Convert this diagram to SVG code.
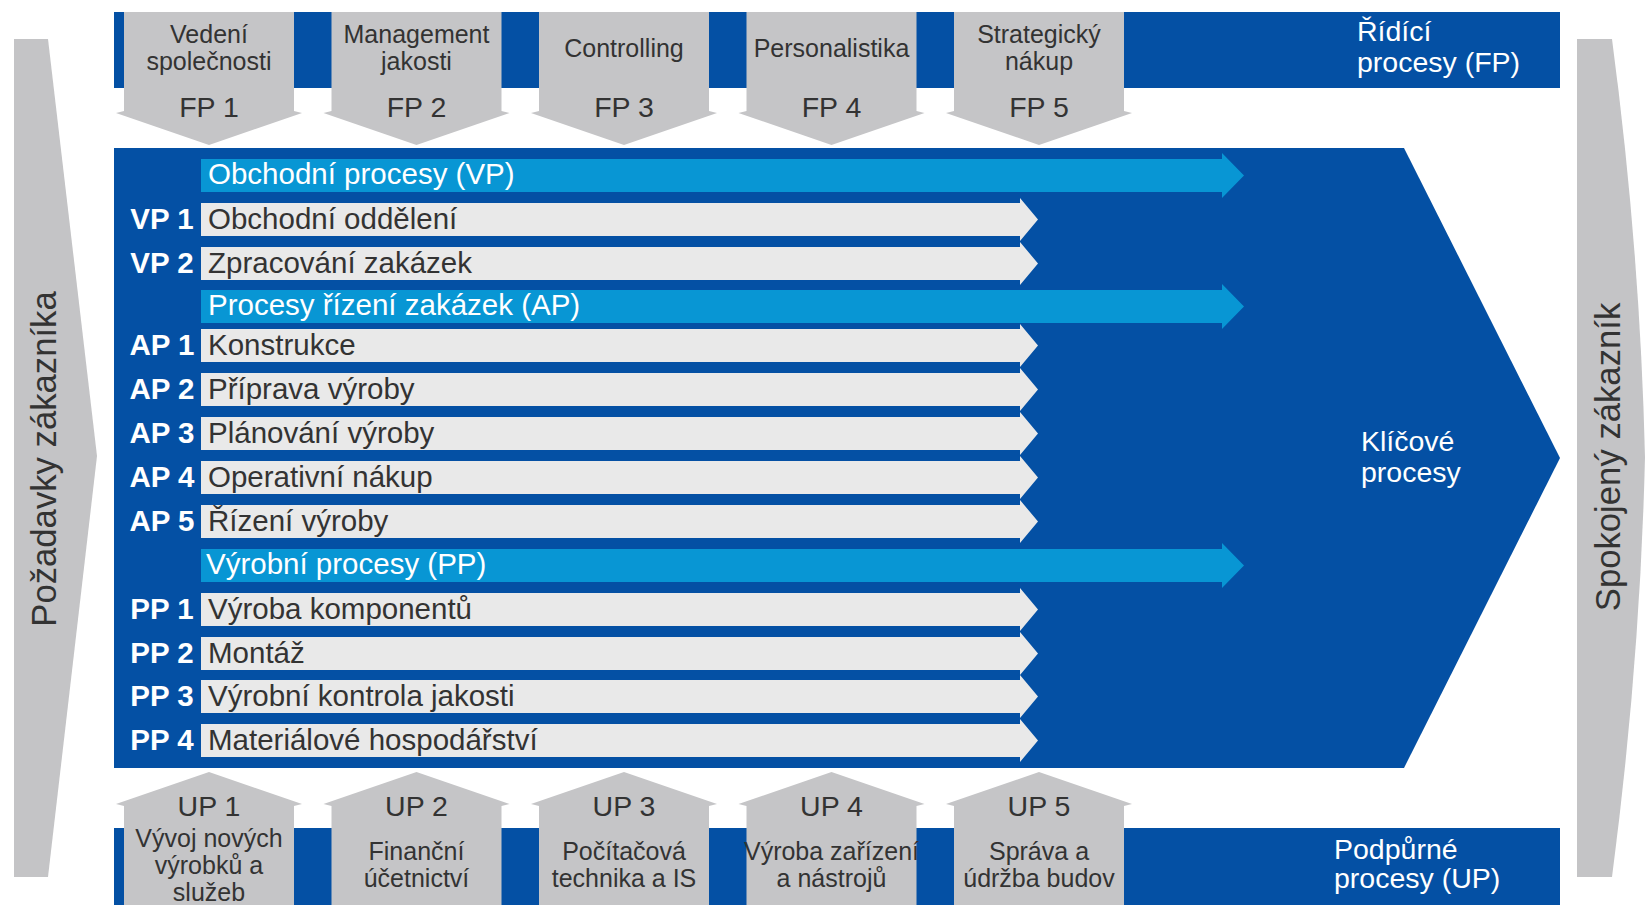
<svg xmlns="http://www.w3.org/2000/svg" xmlns:xlink="http://www.w3.org/1999/xlink" width="1645" height="905" viewBox="0 0 1645 905">
<style>
text{font-family:"Liberation Sans",Arial,sans-serif;}
.dk{fill:#0450a4;}
.lb{fill:#0896d4;}
.gr{fill:#e9e9e9;}
.box{fill:#c5c5c7;}
.side{fill:#c4c4c6;}
.w{fill:#ffffff;}
.t{fill:#333333;}
.row{font-size:29.5px;}
.lab{font-size:29.5px;text-anchor:middle;fill:#ffffff;font-weight:bold;}
.code{font-size:28.5px;text-anchor:middle;fill:#333333;}
.cap{font-size:25px;text-anchor:middle;fill:#333333;}
.big{font-size:28.5px;fill:#ffffff;}
.vert{font-size:34.7px;text-anchor:middle;fill:#333333;}
</style>
<defs>
<path id="grayArrow" d="M0,0 H819 V-5 L837,16.5 L819,38 V33 H0 Z"/>
<path id="blueArrow" d="M0,0 H1021 V-6 L1043,16.5 L1021,39 V33 H0 Z"/>
<path id="fpShape" d="M-85,12 H85 V111 L93,113 L0,145 L-93,113 L-85,111 Z"/>
<path id="upShape" d="M0,772 L93,804 L85,806 V905 H-85 V806 L-93,804 Z"/>
</defs>
<rect width="1645" height="905" fill="#ffffff"/>

<g id="customer-requirements">
<polygon class="side" points="14,39 48,39 97,456 48,877 14,877"/>
<text class="vert" transform="translate(56,459) rotate(-90)">Požadavky zákazníka</text>
</g>

<g id="satisfied-customer">
<path class="side" d="M1577,39 H1612 Q1640,250 1645,457 Q1640,664 1612,877 H1577 Z"/>
<text class="vert" transform="translate(1620,457) rotate(-90)">Spokojený zákazník</text>
</g>

<g id="management-bar">
<rect class="dk" x="114" y="12" width="1446" height="76"/>
<text class="big" x="1357" y="41">Řídící</text>
<text class="big" x="1357" y="72">procesy (FP)</text>
</g>

<g id="FP1"><use href="#fpShape" class="box" x="209"/>
<text class="cap" x="209" y="43">Vedení</text><text class="cap" x="209" y="70">společnosti</text>
<text class="code" x="209" y="117">FP 1</text></g>
<g id="FP2"><use href="#fpShape" class="box" x="416.5"/>
<text class="cap" x="416.5" y="43">Management</text><text class="cap" x="416.5" y="70">jakosti</text>
<text class="code" x="416.5" y="117">FP 2</text></g>
<g id="FP3"><use href="#fpShape" class="box" x="624"/>
<text class="cap" x="624" y="57">Controlling</text>
<text class="code" x="624" y="117">FP 3</text></g>
<g id="FP4"><use href="#fpShape" class="box" x="831.5"/>
<text class="cap" x="831.5" y="57">Personalistika</text>
<text class="code" x="831.5" y="117">FP 4</text></g>
<g id="FP5"><use href="#fpShape" class="box" x="1039"/>
<text class="cap" x="1039" y="43">Strategický</text><text class="cap" x="1039" y="70">nákup</text>
<text class="code" x="1039" y="117">FP 5</text></g>

<g id="key-processes">
<polygon class="dk" points="114,148 1404,148 1560,458 1404,768 114,768"/>
<text class="big" x="1361" y="451">Klíčové</text>
<text class="big" x="1361" y="482">procesy</text>
</g>

<g id="connectors">
<use href="#blueArrow" class="lb" x="201" y="159"/>
<use href="#grayArrow" class="gr" x="201" y="203"/>
<use href="#grayArrow" class="gr" x="201" y="247"/>
<use href="#blueArrow" class="lb" x="201" y="290"/>
<use href="#grayArrow" class="gr" x="201" y="329"/>
<use href="#grayArrow" class="gr" x="201" y="373"/>
<use href="#grayArrow" class="gr" x="201" y="417"/>
<use href="#grayArrow" class="gr" x="201" y="461"/>
<use href="#grayArrow" class="gr" x="201" y="505"/>
<use href="#blueArrow" class="lb" x="201" y="549"/>
<use href="#grayArrow" class="gr" x="201" y="593"/>
<use href="#grayArrow" class="gr" x="201" y="637"/>
<use href="#grayArrow" class="gr" x="201" y="680"/>
<use href="#grayArrow" class="gr" x="201" y="724"/>
</g>

<g id="VP"><text class="row w" x="208" y="184">Obchodní procesy (VP)</text></g>
<g id="VP1"><text class="lab" x="162" y="229">VP 1</text><text class="row t" x="208" y="229">Obchodní oddělení</text></g>
<g id="VP2"><text class="lab" x="162" y="273">VP 2</text><text class="row t" x="208" y="273">Zpracování zakázek</text></g>
<g id="AP"><text class="row w" x="208" y="315">Procesy řízení zakázek (AP)</text></g>
<g id="AP1"><text class="lab" x="162" y="355">AP 1</text><text class="row t" x="208" y="355">Konstrukce</text></g>
<g id="AP2"><text class="lab" x="162" y="399">AP 2</text><text class="row t" x="208" y="399">Příprava výroby</text></g>
<g id="AP3"><text class="lab" x="162" y="443">AP 3</text><text class="row t" x="208" y="443">Plánování výroby</text></g>
<g id="AP4"><text class="lab" x="162" y="487">AP 4</text><text class="row t" x="208" y="487">Operativní nákup</text></g>
<g id="AP5"><text class="lab" x="162" y="531">AP 5</text><text class="row t" x="208" y="531">Řízení výroby</text></g>
<g id="PP"><text class="row w" x="206" y="574">Výrobní procesy (PP)</text></g>
<g id="PP1"><text class="lab" x="162" y="619">PP 1</text><text class="row t" x="208" y="619">Výroba komponentů</text></g>
<g id="PP2"><text class="lab" x="162" y="663">PP 2</text><text class="row t" x="208" y="663">Montáž</text></g>
<g id="PP3"><text class="lab" x="162" y="706">PP 3</text><text class="row t" x="208" y="706">Výrobní kontrola jakosti</text></g>
<g id="PP4"><text class="lab" x="162" y="750">PP 4</text><text class="row t" x="208" y="750">Materiálové hospodářství</text></g>

<g id="support-bar">
<rect class="dk" x="114" y="828" width="1446" height="77"/>
<text class="big" x="1334" y="859">Podpůrné</text>
<text class="big" x="1334" y="888">procesy (UP)</text>
</g>

<g id="UP1"><use href="#upShape" class="box" x="209"/>
<text class="code" x="209" y="816">UP 1</text>
<text class="cap" x="209" y="847">Vývoj nových</text><text class="cap" x="209" y="874">výrobků a</text><text class="cap" x="209" y="901">služeb</text></g>
<g id="UP2"><use href="#upShape" class="box" x="416.5"/>
<text class="code" x="416.5" y="816">UP 2</text>
<text class="cap" x="416.5" y="860">Finanční</text><text class="cap" x="416.5" y="887">účetnictví</text></g>
<g id="UP3"><use href="#upShape" class="box" x="624"/>
<text class="code" x="624" y="816">UP 3</text>
<text class="cap" x="624" y="860">Počítačová</text><text class="cap" x="624" y="887">technika a IS</text></g>
<g id="UP4"><use href="#upShape" class="box" x="831.5"/>
<text class="code" x="831.5" y="816">UP 4</text>
<text class="cap" x="831.5" y="860">Výroba zařízení</text><text class="cap" x="831.5" y="887">a nástrojů</text></g>
<g id="UP5"><use href="#upShape" class="box" x="1039"/>
<text class="code" x="1039" y="816">UP 5</text>
<text class="cap" x="1039" y="860">Správa a</text><text class="cap" x="1039" y="887">údržba budov</text></g>
</svg>
